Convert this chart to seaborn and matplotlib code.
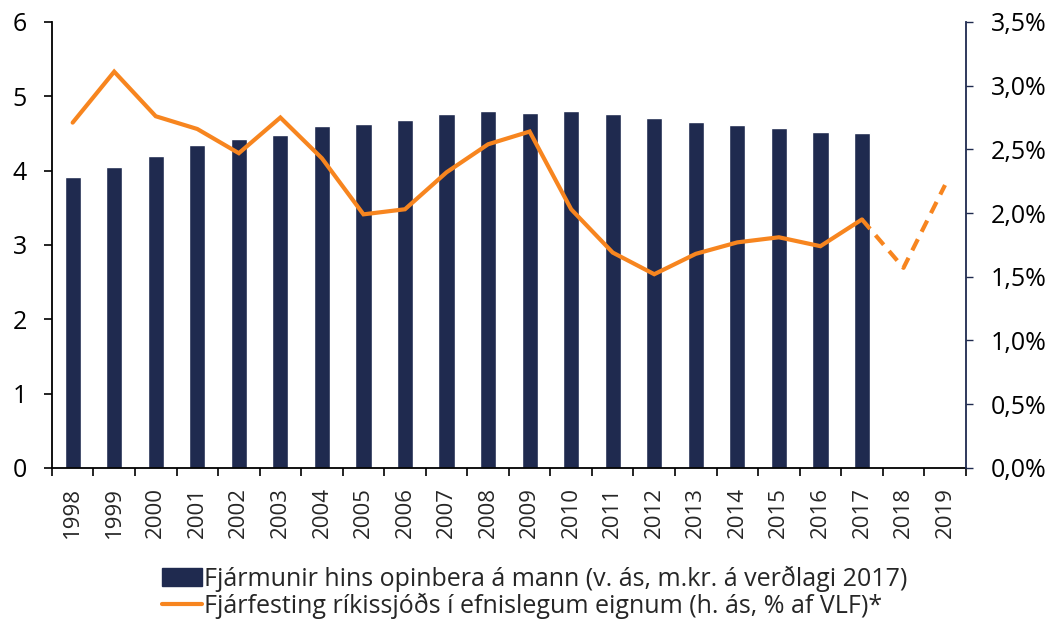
import numpy as np
import pandas as pd
import matplotlib
matplotlib.use("Agg")
import matplotlib.pyplot as plt
import seaborn as sns
from matplotlib.ticker import FuncFormatter, FixedLocator
from matplotlib.patches import Patch
from matplotlib.lines import Line2D

years = [str(y) for y in range(1998, 2020)]
assets = [3.92, 4.05, 4.20, 4.35, 4.42, 4.48, 4.60, 4.63, 4.68, 4.76, 4.80, 4.78,
          4.80, 4.76, 4.71, 4.65, 4.62, 4.58, 4.52, 4.50, np.nan, np.nan]
invest = [2.71, 3.11, 2.76, 2.66, 2.47, 2.75, 2.43, 1.99, 2.03, 2.32, 2.54, 2.64,
          2.03, 1.69, 1.52, 1.68, 1.77, 1.81, 1.74, 1.95, 1.57, 2.22]
n_actual = 20  # last actual year 2017; 2018-2019 are projections

bar_label = "Fjármunir hins opinbera á mann (v. ás, m.kr. á verðlagi 2017)"
line_label = "Fjárfesting ríkissjóðs í efnislegum eignum (h. ás, % af VLF)*"

navy = "#1f2a4f"
orange = "#f7851f"

sns.set_theme(style="white")
plt.rcParams['font.family'] = ['Open Sans', 'DejaVu Sans']

fig = plt.figure(figsize=(10.59, 6.28), dpi=100)
ax = fig.add_axes([0.049, 0.255, 0.863, 0.710])

df = pd.DataFrame({"year": years, "assets": assets, "invest": invest})
sns.barplot(data=df, x="year", y="assets", color=navy, width=0.39,
            saturation=1, ax=ax, zorder=2)
ax.set_xlim(-0.5, len(years) - 0.5)
ax.set_ylim(0, 6)
ax.set_xlabel("")
ax.set_ylabel("")
ax.set_yticks(range(0, 7))
ax.tick_params(axis="y", labelsize=18, length=6, width=1.2, direction="out",
               left=True, colors="black", pad=12)
ax.tick_params(axis="x", labelsize=16, rotation=90, length=0, pad=14)
ax.set_xticks(np.arange(len(years)))
ax.set_xticklabels(years)
ax.xaxis.set_minor_locator(FixedLocator(np.arange(len(years) + 1) - 0.5))
ax.tick_params(axis="x", which="minor", length=6, width=1.2, bottom=True, color="black")
for s in ["top", "right"]:
    ax.spines[s].set_visible(False)
ax.spines["left"].set_color("black")
ax.spines["left"].set_linewidth(1.3)
ax.spines["bottom"].set_color("black")
ax.spines["bottom"].set_linewidth(1.3)

ax2 = ax.twinx()
pos = np.arange(len(years))
ax2.plot(pos[:n_actual], invest[:n_actual], color=orange, lw=3.0, zorder=3,
         solid_joinstyle="miter")
ax2.plot(pos[n_actual - 1:], invest[n_actual - 1:], color=orange, lw=3.0,
         linestyle=(0, (3, 2)), zorder=3)
ax2.set_ylim(0, 3.5)
ax2.set_yticks(np.arange(0, 3.51, 0.5))
ax2.yaxis.set_major_formatter(FuncFormatter(lambda v, p: f"{v:.1f}%".replace(".", ",")))
ax2.tick_params(axis="y", labelsize=18, length=5, width=1.0, direction="out",
                right=True, colors=navy, labelcolor="black", pad=13)
for s in ["top", "left", "bottom"]:
    ax2.spines[s].set_visible(False)
ax2.spines["right"].set_color(navy)
ax2.spines["right"].set_linewidth(1.3)
ax2.grid(False)
ax.grid(False)

handles = [Patch(facecolor=navy, edgecolor=navy),
           Line2D([0], [0], color=orange, lw=3.0)]
fig.legend(handles, [bar_label, line_label], loc="center",
           bbox_to_anchor=(0.505, 0.057), frameon=False, fontsize=18,
           handlelength=1.6, handletextpad=0.1, labelspacing=0.05,
           borderaxespad=0)

fig.savefig("out.png", dpi=100)
